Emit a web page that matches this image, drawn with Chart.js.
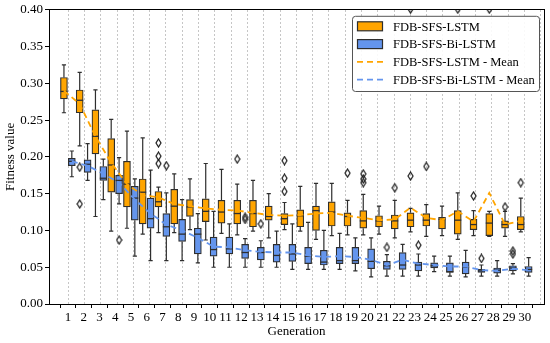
<!DOCTYPE html>
<html>
<head>
<meta charset="utf-8">
<script src="https://cdn.jsdelivr.net/npm/chart.js@4.4.1/dist/chart.umd.min.js"></script>
<style>
  html, body { margin: 0; padding: 0; background: #fff; }
</style>
</head>
<body>
<canvas id="chart" width="550" height="343"></canvas>
<script>
// Generations on the x axis
const generations = [1, 2, 3, 4, 5, 6, 7, 8, 9, 10, 11, 12, 13, 14, 15,
                     16, 17, 18, 19, 20, 21, 22, 23, 24, 25, 26, 27, 28, 29, 30];
const yTicks = [0.00, 0.05, 0.10, 0.15, 0.20, 0.25, 0.30, 0.35, 0.40];

// FDB-SFS-LSTM box statistics
const lstmLow  = [0.260, 0.215, 0.119, 0.099, 0.103, 0.095, 0.097, 0.097, 0.101, 0.087,
                  0.096, 0.094, 0.099, 0.090, 0.101, 0.099, 0.088, 0.093, 0.094, 0.094,
                  0.095, 0.090, 0.098, 0.092, 0.093, 0.088, 0.093, 0.092, 0.092, 0.098];
const lstmQ1   = [0.279, 0.260, 0.204, 0.152, 0.132, 0.109, 0.132, 0.109, 0.119, 0.112,
                  0.110, 0.109, 0.105, 0.114, 0.108, 0.105, 0.100, 0.106, 0.106, 0.103,
                  0.105, 0.102, 0.105, 0.106, 0.102, 0.095, 0.101, 0.093, 0.103, 0.101];
const lstmMed  = [0.289, 0.277, 0.228, 0.189, 0.163, 0.152, 0.139, 0.133, 0.132, 0.126,
                  0.125, 0.123, 0.123, 0.119, 0.116, 0.120, 0.127, 0.125, 0.119, 0.113,
                  0.113, 0.113, 0.114, 0.114, 0.115, 0.114, 0.108, 0.110, 0.108, 0.108];
const lstmQ3   = [0.308, 0.291, 0.264, 0.225, 0.194, 0.170, 0.153, 0.156, 0.142, 0.143,
                  0.141, 0.141, 0.141, 0.133, 0.123, 0.128, 0.133, 0.139, 0.124, 0.127,
                  0.120, 0.121, 0.124, 0.123, 0.118, 0.127, 0.115, 0.123, 0.113, 0.119];
const lstmHigh = [0.325, 0.315, 0.291, 0.251, 0.235, 0.226, 0.159, 0.177, 0.170, 0.191,
                  0.183, 0.163, 0.168, 0.150, 0.138, 0.160, 0.164, 0.164, 0.141, 0.149,
                  0.133, 0.141, 0.130, 0.135, 0.133, 0.151, 0.127, 0.126, 0.126, 0.144];
const lstmMean = [0.290, 0.272, 0.228, 0.192, 0.163, 0.148, 0.145, 0.136, 0.133, 0.130,
                  0.128, 0.127, 0.124, 0.121, 0.120, 0.121, 0.123, 0.124, 0.120, 0.117,
                  0.114, 0.115, 0.131, 0.117, 0.114, 0.126, 0.112, 0.151, 0.108, 0.113];
const lstmOutliers = [[2, 0.186], [2, 0.136], [7, 0.219], [7, 0.201], [7, 0.191], [12, 0.197],
                      [15, 0.195], [15, 0.171], [15, 0.153], [19, 0.178], [20, 0.177],
                      [20, 0.170], [20, 0.165], [22, 0.158], [23, 0.174], [23, 0.401],
                      [24, 0.187], [26, 0.401], [27, 0.147], [28, 0.401], [29, 0.132], [30, 0.165]];

// FDB-SFS-Bi-LSTM box statistics
const biLow  = [0.173, 0.168, 0.142, 0.136, 0.065, 0.059, 0.059, 0.059, 0.056, 0.050,
                0.050, 0.050, 0.050, 0.050, 0.047, 0.047, 0.047, 0.047, 0.045, 0.037,
                0.038, 0.038, 0.038, 0.044, 0.038, 0.037, 0.038, 0.038, 0.041, 0.038];
const biQ1   = [0.188, 0.179, 0.168, 0.150, 0.114, 0.103, 0.092, 0.085, 0.068, 0.065,
                0.068, 0.062, 0.060, 0.057, 0.058, 0.055, 0.053, 0.055, 0.055, 0.048,
                0.047, 0.047, 0.045, 0.049, 0.043, 0.041, 0.043, 0.042, 0.045, 0.043];
const biMed  = [0.194, 0.190, 0.171, 0.168, 0.144, 0.116, 0.105, 0.095, 0.095, 0.074,
                0.075, 0.070, 0.070, 0.066, 0.068, 0.065, 0.057, 0.059, 0.059, 0.058,
                0.052, 0.053, 0.053, 0.052, 0.044, 0.050, 0.045, 0.046, 0.049, 0.047];
const biQ3   = [0.198, 0.196, 0.187, 0.175, 0.160, 0.144, 0.123, 0.115, 0.103, 0.091,
                0.091, 0.081, 0.077, 0.081, 0.081, 0.077, 0.073, 0.077, 0.077, 0.075,
                0.058, 0.070, 0.057, 0.056, 0.056, 0.057, 0.047, 0.049, 0.052, 0.051];
const biHigh = [0.208, 0.218, 0.197, 0.199, 0.170, 0.182, 0.151, 0.142, 0.123, 0.126,
                0.109, 0.089, 0.086, 0.099, 0.109, 0.111, 0.100, 0.096, 0.090, 0.090,
                0.067, 0.081, 0.068, 0.065, 0.065, 0.073, 0.053, 0.059, 0.055, 0.063];
const biMean = [0.194, 0.188, 0.177, 0.165, 0.142, 0.123, 0.108, 0.100, 0.090, 0.078,
                0.077, 0.073, 0.071, 0.070, 0.070, 0.066, 0.064, 0.065, 0.064, 0.060,
                0.053, 0.060, 0.055, 0.053, 0.051, 0.051, 0.046, 0.045, 0.048, 0.046];
const biOutliers = [[4, 0.087], [7, 0.188], [12, 0.118], [12, 0.115], [13, 0.109], [21, 0.077],
                    [23, 0.080], [27, 0.062], [29, 0.072], [29, 0.068]];

const ORANGE = '#FFA500';
const BLUE = '#6495ED';
const EDGE = '#2e2e2e';
const SERIF = "'Liberation Serif', 'Times New Roman', serif";
const lstmShift = -0.25;
const biShift = 0.25;
const xMin = 0.325, xMax = 30.7;
const boundaries = generations.map(g => g + 0.5);

Chart.defaults.font.family = SERIF;
Chart.defaults.color = '#000';

// thin open diamond used for outliers
const diamond = document.createElement('canvas');
diamond.width = 7;
diamond.height = 10;
(() => {
    const c = diamond.getContext('2d');
    c.strokeStyle = '#1a1a1a';
    c.lineWidth = 1.2;
    c.beginPath();
    c.moveTo(3.5, 1);
    c.lineTo(6, 5);
    c.lineTo(3.5, 9);
    c.lineTo(1, 5);
    c.closePath();
    c.stroke();
})();

// whiskers under the boxes, medians on top of them
const boxParts = {
    id: 'boxParts',
    beforeDatasetDraw(chart, args) {
        const ds = chart.data.datasets[args.index];
        if (!ds.stats) return;
        const { ctx } = chart;
        const y = chart.scales.y;
        const meta = chart.getDatasetMeta(args.index);
        ctx.save();
        ctx.strokeStyle = EDGE;
        ctx.lineWidth = 1.2;
        meta.data.forEach((bar, i) => {
            const cap = bar.width * 0.3;
            const lo = y.getPixelForValue(ds.stats.low[i]);
            const hi = y.getPixelForValue(ds.stats.high[i]);
            const q1 = y.getPixelForValue(ds.data[i].y[0]);
            const q3 = y.getPixelForValue(ds.data[i].y[1]);
            ctx.beginPath();
            ctx.moveTo(bar.x, q3); ctx.lineTo(bar.x, hi);
            ctx.moveTo(bar.x, q1); ctx.lineTo(bar.x, lo);
            ctx.moveTo(bar.x - cap, hi); ctx.lineTo(bar.x + cap, hi);
            ctx.moveTo(bar.x - cap, lo); ctx.lineTo(bar.x + cap, lo);
            ctx.stroke();
        });
        ctx.restore();
    },
    afterDatasetDraw(chart, args) {
        const ds = chart.data.datasets[args.index];
        if (!ds.stats) return;
        const { ctx } = chart;
        const y = chart.scales.y;
        const meta = chart.getDatasetMeta(args.index);
        ctx.save();
        ctx.strokeStyle = EDGE;
        ctx.lineWidth = 1.3;
        meta.data.forEach((bar, i) => {
            const m = y.getPixelForValue(ds.stats.med[i]);
            ctx.beginPath();
            ctx.moveTo(bar.x - bar.width / 2, m);
            ctx.lineTo(bar.x + bar.width / 2, m);
            ctx.stroke();
        });
        ctx.restore();
    }
};

// framed legend in the top right corner of the plot
const legendBox = {
    id: 'legendBox',
    afterDraw(chart) {
        const { ctx, chartArea } = chart;
        const items = chart.data.datasets.filter(d => d.inLegend);
        const w = 187, rowH = 17.8;
        const h = items.length * rowH + 4;
        const x0 = chartArea.right - 5 - w;
        const y0 = chartArea.top + 6;
        ctx.save();
        ctx.fillStyle = 'rgba(255,255,255,0.9)';
        ctx.strokeStyle = '#555';
        ctx.lineWidth = 1;
        ctx.beginPath();
        ctx.roundRect(x0 + 0.5, y0 + 0.5, w, h, 3);
        ctx.fill();
        ctx.stroke();
        ctx.font = `12.5px ${SERIF}`;
        ctx.textBaseline = 'middle';
        items.forEach((d, i) => {
            const cy = y0 + 10.5 + i * rowH;
            if (d.type === 'bar') {
                ctx.fillStyle = d.backgroundColor;
                ctx.fillRect(x0 + 5.5, cy - 4.5, 25, 9);
                ctx.strokeStyle = EDGE;
                ctx.lineWidth = 1.2;
                ctx.strokeRect(x0 + 5.5, cy - 4.5, 25, 9);
            } else {
                ctx.strokeStyle = d.borderColor;
                ctx.lineWidth = d.borderWidth;
                ctx.setLineDash(d.borderDash);
                ctx.beginPath();
                ctx.moveTo(x0 + 5, cy);
                ctx.lineTo(x0 + 31, cy);
                ctx.stroke();
                ctx.setLineDash([]);
            }
            ctx.fillStyle = '#000';
            ctx.fillText(d.label, x0 + 41, cy + 1);
        });
        ctx.restore();
    }
};

const font = { family: SERIF, size: 13 };

new Chart(document.getElementById('chart'), {
    data: {
        datasets: [
            {
                type: 'bar', label: 'FDB-SFS-LSTM', inLegend: true,
                data: generations.map((g, i) => ({ x: g + lstmShift, y: [lstmQ1[i], lstmQ3[i]] })),
                stats: { low: lstmLow, med: lstmMed, high: lstmHigh },
                backgroundColor: ORANGE, borderColor: EDGE, borderWidth: 1.2,
                borderSkipped: false, grouped: false, barThickness: 7, order: 2
            },
            {
                type: 'bar', label: 'FDB-SFS-Bi-LSTM', inLegend: true,
                data: generations.map((g, i) => ({ x: g + biShift, y: [biQ1[i], biQ3[i]] })),
                stats: { low: biLow, med: biMed, high: biHigh },
                backgroundColor: BLUE, borderColor: EDGE, borderWidth: 1.2,
                borderSkipped: false, grouped: false, barThickness: 7, order: 2
            },
            {
                type: 'line', label: 'FDB-SFS-LSTM - Mean', inLegend: true,
                data: generations.map((g, i) => ({ x: g + lstmShift, y: lstmMean[i] })),
                borderColor: ORANGE, borderWidth: 1.8, borderDash: [6, 4],
                pointRadius: 0, fill: false, tension: 0, order: 0
            },
            {
                type: 'line', label: 'FDB-SFS-Bi-LSTM - Mean', inLegend: true,
                data: generations.map((g, i) => ({ x: g + biShift, y: biMean[i] })),
                borderColor: BLUE, borderWidth: 1.8, borderDash: [6, 4],
                pointRadius: 0, fill: false, tension: 0, order: 0
            },
            {
                type: 'scatter', label: 'LSTM outliers',
                data: lstmOutliers.map(([g, v]) => ({ x: g + lstmShift, y: v })),
                pointStyle: diamond, pointRadius: 3, clip: 0, order: 1
            },
            {
                type: 'scatter', label: 'Bi-LSTM outliers',
                data: biOutliers.map(([g, v]) => ({ x: g + biShift, y: v })),
                pointStyle: diamond, pointRadius: 3, clip: 0, order: 1
            }
        ]
    },
    options: {
        responsive: false,
        animation: false,
        layout: { padding: { top: 8, right: 6, bottom: 0, left: 0 } },
        plugins: {
            legend: { display: false },
            tooltip: { enabled: false }
        },
        scales: {
            x: {
                type: 'linear', position: 'bottom', min: xMin, max: xMax,
                afterBuildTicks: s => { s.ticks = generations.map(g => ({ value: g })); },
                afterFit: s => { s.height = 39; },
                ticks: { font, color: '#000', padding: 2, autoSkip: false, maxRotation: 0, callback: v => v },
                grid: { drawOnChartArea: false, tickLength: 4, tickColor: '#000' },
                border: { color: '#000' },
                title: { display: true, text: 'Generation', font, color: '#000', padding: { top: 0, bottom: 4 } }
            },
            xg: {
                type: 'linear', position: 'top', min: xMin, max: xMax,
                afterBuildTicks: s => { s.ticks = boundaries.map(v => ({ value: v })); },
                afterFit: s => { s.height = 0; },
                ticks: { display: false },
                grid: { drawTicks: false, color: '#b8b8b8', lineWidth: 0.8 },
                border: { display: true, color: '#000', dash: [2, 2] }
            },
            y: {
                type: 'linear', position: 'left', min: 0, max: 0.4,
                afterBuildTicks: s => { s.ticks = yTicks.map(v => ({ value: v })); },
                afterFit: s => { s.width = 49; },
                ticks: { font, color: '#000', padding: 2, callback: v => v.toFixed(2) },
                grid: { drawOnChartArea: false, tickLength: 4, tickColor: '#000' },
                border: { color: '#000' },
                title: { display: true, text: 'Fitness value', font, color: '#000', padding: { top: 3, bottom: 0 } }
            },
            yr: {
                type: 'linear', position: 'right', min: 0, max: 0.4,
                afterFit: s => { s.width = 0; },
                ticks: { display: false },
                grid: { display: false },
                border: { display: true, color: '#000' }
            }
        }
    },
    plugins: [boxParts, legendBox]
});
</script>
</body>
</html>
